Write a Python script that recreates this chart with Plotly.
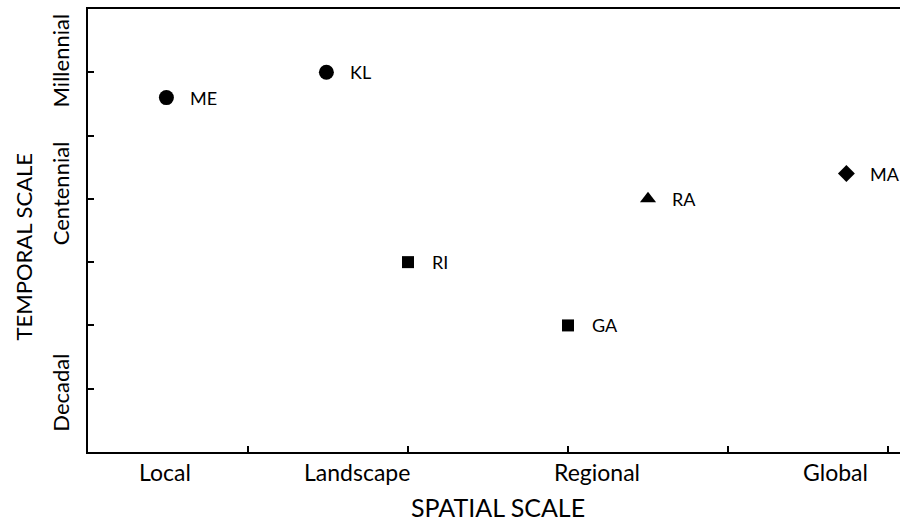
import plotly.graph_objects as go

# Data
names = ["ME", "KL", "RI", "GA", "RA", "MA"]
spatial = [0.49, 1.49, 2.0, 3.0, 3.5, 4.74]
temporal = [5.6, 6.0, 3.0, 2.0, 4.0, 4.4]
symbols = ["circle", "circle", "square", "square", "triangle-up", "diamond"]
sizes = [15, 15, 12, 12, 14, 13]

x_ticks = [1, 2, 3, 4, 5]
x_labels = ["Local", "Landscape", "Regional", "Global"]
x_label_pos = [0.48, 1.68, 3.18, 4.67]
y_ticks = [1, 2, 3, 4, 5, 6]
y_labels = ["Decadal", "Centennial", "Millennial"]
y_label_pos = [0.93, 4.08, 6.18]

FONT = "Lato"

fig = go.Figure()
fig.add_trace(go.Scatter(
    x=spatial, y=temporal, mode="markers",
    marker=dict(symbol=symbols, size=sizes, color="#000000", opacity=1,
                line=dict(width=0, color="#000000")),
    showlegend=False, hoverinfo="skip",
))

ann = []
for n, xv, yv in zip(names, spatial, temporal):
    ann.append(dict(x=xv, y=yv, text=n, showarrow=False, xanchor="left",
                    yanchor="middle", xshift=22, font=dict(size=18, color="black", family=FONT)))
for lab, xv in zip(x_labels, x_label_pos):
    ann.append(dict(x=xv, y=0, yref="paper", text=lab, showarrow=False,
                    xanchor="center", yanchor="top", yshift=-4,
                    font=dict(size=23, color="black", family=FONT)))
for lab, yv in zip(y_labels, y_label_pos):
    ann.append(dict(x=0, xref="paper", y=yv, text=lab, showarrow=False, textangle=-90,
                    xanchor="right", yanchor="middle", xshift=-12,
                    font=dict(size=22, color="black", family=FONT)))
ann.append(dict(x=0.505, xref="paper", y=0, yref="paper", text="SPATIAL SCALE", showarrow=False,
                xanchor="center", yanchor="top", yshift=-38,
                font=dict(size=25, color="black", family=FONT)))
ann.append(dict(x=0, xref="paper", y=0.463, yref="paper", text="TEMPORAL SCALE", showarrow=False,
                textangle=-90, xanchor="right", yanchor="middle", xshift=-49,
                font=dict(size=22, color="black", family=FONT)))

fig.update_layout(
    width=900, height=527,
    margin=dict(l=88, r=0, t=9, b=75),
    plot_bgcolor="white", paper_bgcolor="white",
    annotations=ann,
    xaxis=dict(range=[0, 5.075], tickvals=x_ticks, showticklabels=False, ticks="inside",
               ticklen=6, tickwidth=2, tickcolor="black", showline=True, linecolor="black",
               linewidth=2, mirror=True, showgrid=False, zeroline=False),
    yaxis=dict(range=[0, 7], tickvals=y_ticks, showticklabels=False, ticks="inside",
               ticklen=6, tickwidth=2, tickcolor="black", showline=True, linecolor="black",
               linewidth=2, showgrid=False, zeroline=False),
)

fig.write_html("out.html", config={"displayModeBar": False},
               post_script="document.body.style.margin='0';document.body.style.overflow='hidden';")
